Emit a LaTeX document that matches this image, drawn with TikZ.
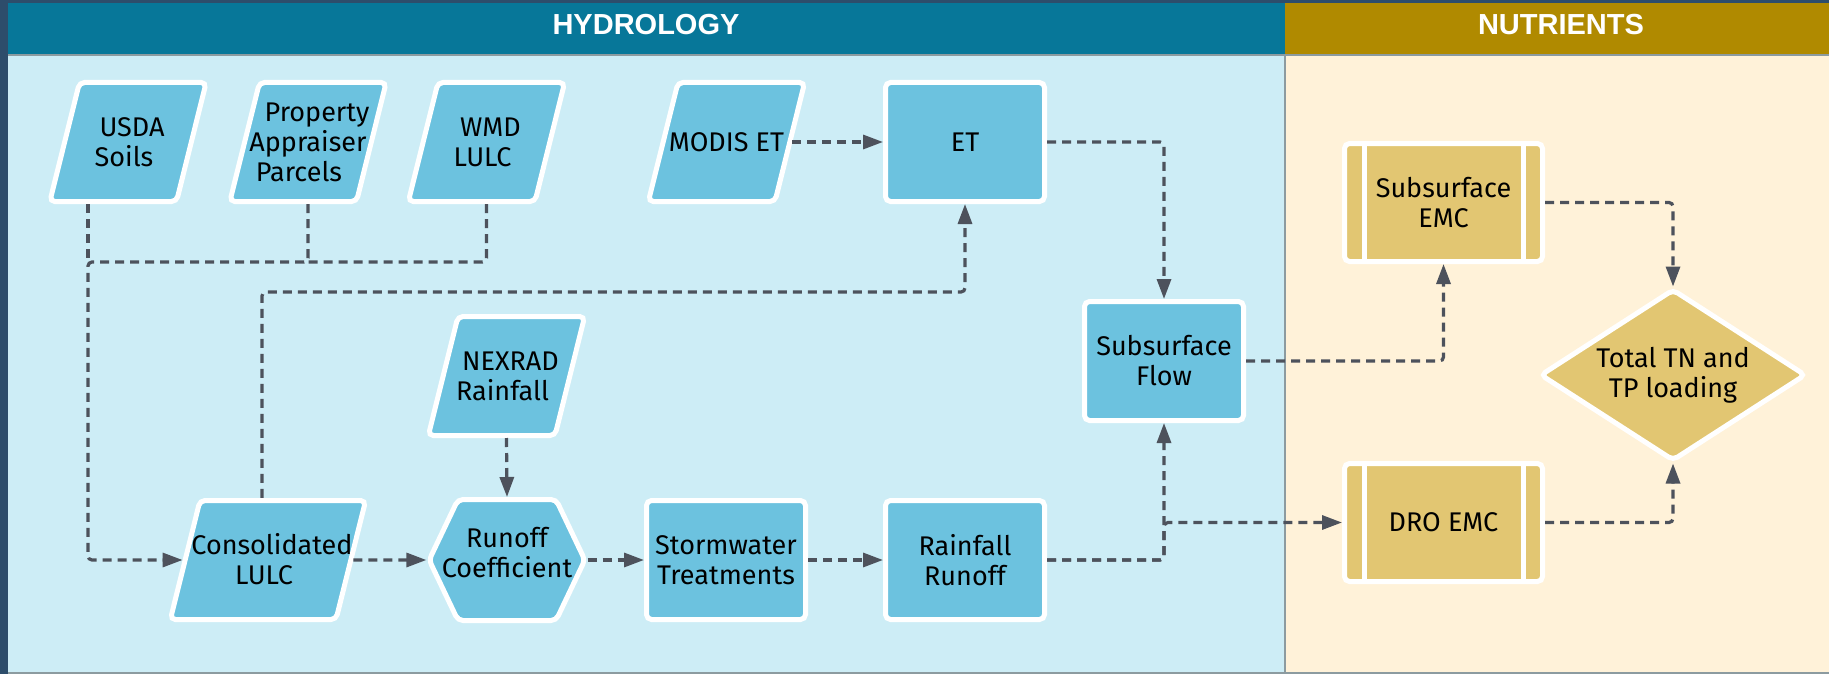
\documentclass[tikz,border=0pt]{standalone}
\usepackage{fontspec}
\setmainfont{Fira Sans}
\newfontfamily\headfont{Liberation Sans}
\usetikzlibrary{shapes.geometric,shapes.symbols,arrows.meta}

\definecolor{framenavy}{HTML}{2D4D6B}
\definecolor{hydrohead}{HTML}{077799}
\definecolor{nutrhead}{HTML}{B08A00}
\definecolor{hydrobg}{HTML}{CDEDF6}
\definecolor{nutrbg}{HTML}{FFF2D9}
\definecolor{bluebox}{HTML}{6CC2DF}
\definecolor{goldbox}{HTML}{E2C672}
\definecolor{linkgray}{HTML}{4D525C}
\definecolor{lanegray}{HTML}{8C9BA0}

% fixed text box: [drop x2], width, height, lines
\newcommand{\fixedbox}[4][3.5pt]{\vbox to #3{\vss\hbox to #2{\hss\begin{tabular}{@{}c@{}}#4\end{tabular}\hss}\vss\kern-#1}}

\begin{document}
\begin{tikzpicture}[x=0.5pt, y=-0.5pt,
    basebox/.style={draw=white, line width=2.5pt, rounded corners=2.5pt, align=center,
      inner sep=0pt, font=\fontsize{13.5pt}{15pt}\selectfont},
    inputbox/.style={basebox, fill=bluebox, trapezium, trapezium left angle=76,
      trapezium right angle=104},
    procbox/.style={basebox, fill=bluebox, rectangle, minimum width=79.5pt, minimum height=59.5pt},
    prepbox/.style={basebox, fill=bluebox, signal, signal to=east and west,
      signal pointer angle=129},
    emcbox/.style={basebox, fill=goldbox, rectangle, minimum width=99pt, minimum height=59pt},
    decisionbox/.style={basebox, fill=goldbox, diamond, aspect=1.57,
      minimum width=133pt, minimum height=86pt},
    wallbar/.style={draw=white, line width=2.5pt},
    flowline/.style={draw=linkgray, line width=1.6pt, dash pattern=on 4.5pt off 3pt,
      rounded corners=2pt},
    flowarrow/.style={flowline, -{Triangle[length=10pt,width=7pt]}},
    lanetitle/.style={font=\headfont\bfseries\fontsize{14.5pt}{17pt}\selectfont,
      text=white, anchor=base}]

    \useasboundingbox (0,0) rectangle (1829,674);

    % Lanes
    \fill[framenavy] (0,0) rectangle (1829,674);
    \fill[hydrohead] (8,3) rectangle (1285,55);
    \fill[nutrhead] (1285,3) rectangle (1829,55);
    \fill[hydrobg] (8,55) rectangle (1285,672);
    \fill[nutrbg] (1285,55) rectangle (1829,672);
    \draw[lanegray, line width=0.6pt] (8,55) -- (1829,55);
    \draw[lanegray, line width=1pt] (1285,55) -- (1285,672);
    \draw[lanegray, line width=1pt] (8,673) -- (1829,673);

    \node[lanetitle] (hydrotitle) at (646,35) {HYDROLOGY};
    \node[lanetitle] (nutrtitle) at (1561,35) {NUTRIENTS};

    % Inputs
    \node[inputbox] (usda) at (128,142) {\fixedbox{48.5pt}{59.5pt}{\hspace*{4pt}USDA\\Soils\hspace*{4pt}}};
    \node[inputbox] (parcels) at (308,142) {\fixedbox{48.5pt}{59.5pt}{\hspace*{9pt}Property\\Appraiser\\Parcels\hspace*{9pt}}};
    \node[inputbox] (wmd) at (486.5,142) {\fixedbox{48.5pt}{59.5pt}{\hspace*{4pt}WMD\\LULC\hspace*{4pt}}};
    \node[inputbox] (modis) at (726.5,142) {\fixedbox{48.5pt}{59.5pt}{MODIS ET}};
    \node[inputbox] (nexrad) at (506.5,376) {\fixedbox{48.5pt}{59.5pt}{\hspace*{4pt}NEXRAD\\Rainfall\hspace*{4pt}}};
    \node[inputbox] (cons) at (268,560) {\fixedbox{68pt}{59.5pt}{\hspace*{4pt}Consolidated\\LULC\hspace*{4pt}}};

    % Hydrology steps
    \node[procbox] (et) at (965,142) {ET};
    \node[prepbox] (runoff) at (507,560) {\fixedbox[-3.5pt]{49pt}{60.5pt}{Runoff\\Coefficient}};
    \node[procbox] (storm) at (726,560) {Stormwater\\Treatments};
    \node[procbox] (rr) at (965,560) {Rainfall\\Runoff};
    \node[procbox] (sflow) at (1164,361) {Subsurface\\Flow};

    % Nutrients
    \node[emcbox] (semc) at (1443.5,202.5) {Subsurface\\EMC};
    \node[emcbox] (dro) at (1443.5,522.5) {DRO EMC};
    \node[decisionbox] (total) at (1673,375) {Total TN and\\TP loading};
    \foreach \n in {semc,dro} {
      \draw[wallbar] ([xshift=11pt]\n.north west) -- ([xshift=11pt]\n.south west);
      \draw[wallbar] ([xshift=-11pt]\n.north east) -- ([xshift=-11pt]\n.south east);
    }

    % Connectors
    \coordinate (landjoin) at (88,262);
    \coordinate (parceljoin) at (307,262);
    \coordinate (etlane) at (600,292);
    \draw[flowline] ([xshift=-20pt]usda.center |- usda.south) -- (landjoin);
    \draw[flowarrow] (parcels.center |- parcels.south) |- (landjoin) |- (cons.west);
    \draw[flowline] (wmd.center |- wmd.south) |- (parceljoin);
    \draw[flowarrow] ([xshift=-3pt]cons.center |- cons.north) |- (etlane) -| (et.south);
    \draw[flowarrow] (modis.east) -- (et.west);
    \draw[flowarrow] (et.east) -| (sflow.north);
    \draw[flowarrow] (nexrad.center |- nexrad.south) -- (runoff.north);
    \draw[flowarrow] (cons.east) -- (runoff.west);
    \draw[flowarrow] (runoff.east) -- (storm.west);
    \draw[flowarrow] (storm.east) -- (rr.west);
    \draw[flowarrow] (rr.east) -| (sflow.south);
    \draw[flowarrow] (rr.east) -| (sflow.south |- dro.west) -- (dro.west);
    \draw[flowarrow] (sflow.east) -| (semc.south);
    \draw[flowarrow] (semc.east) -| (total.north);
    \draw[flowarrow] (dro.east) -| (total.south);
\end{tikzpicture}
\end{document}
